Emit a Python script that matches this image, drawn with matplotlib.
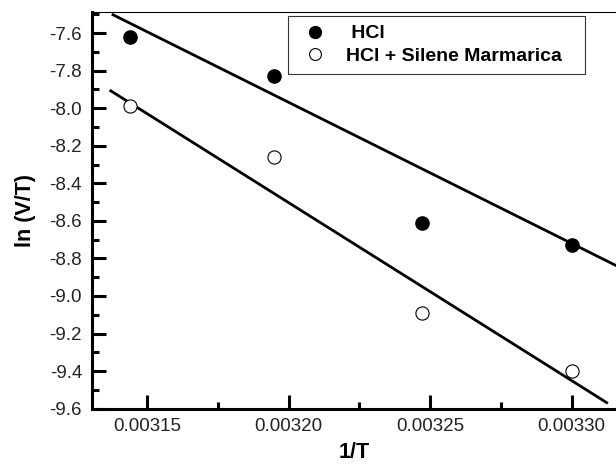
import numpy as np
import matplotlib
matplotlib.use('Agg')
import matplotlib.pyplot as plt
from matplotlib.ticker import MultipleLocator, FormatStrFormatter

plt.rcParams['font.family'] = ['Liberation Sans', 'DejaVu Sans']
plt.rcParams['axes.unicode_minus'] = False

# data
inv_T = [0.003144, 0.003195, 0.003247, 0.003300]
ln_hcl = [-7.62, -7.83, -8.61, -8.73]
ln_hcl_silene = [-7.99, -8.26, -9.09, -9.40]

# fitted lines (end points as drawn)
fit_hcl_x = [0.003138, 0.003320]
fit_hcl_y = [-7.502, -8.870]
fit_silene_x = [0.0031372, 0.0033124]
fit_silene_y = [-7.907, -9.568]

fig = plt.figure(figsize=(6.16, 4.67), dpi=100)
ax = fig.add_axes([0.149, 0.125, 0.851, 0.849])

ax.plot(inv_T, ln_hcl, 'o', color='black', markersize=9.5, label=' HCl', zorder=3)
ax.plot(inv_T, ln_hcl_silene, 'o', markerfacecolor='white', markeredgecolor='black',
        markeredgewidth=0.8, markersize=9.5, label='HCl + Silene Marmarica', zorder=3)
ax.plot(fit_hcl_x, fit_hcl_y, color='black', linewidth=2)
ax.plot(fit_silene_x, fit_silene_y, color='black', linewidth=2)

ax.set_xlim(0.0031305, 0.0033157)
ax.set_ylim(-9.6, -7.488)

ax.xaxis.set_major_locator(MultipleLocator(0.00005))
ax.xaxis.set_minor_locator(MultipleLocator(0.000025))
ax.xaxis.set_major_formatter(FormatStrFormatter('%.5f'))
ax.yaxis.set_major_locator(MultipleLocator(0.2))
ax.yaxis.set_minor_locator(MultipleLocator(0.1))
ax.yaxis.set_major_formatter(FormatStrFormatter('%.1f'))

ax.tick_params(which='both', direction='in', top=False, right=False, labelsize=13.5,
               pad=7, labelcolor='#222222')
ax.tick_params(which='major', length=10, width=2.2)
ax.tick_params(which='minor', length=5, width=2.2)

ax.spines['left'].set_linewidth(2.2)
ax.spines['bottom'].set_linewidth(2.2)
ax.spines['top'].set_linewidth(0.8)
ax.spines['right'].set_visible(False)

ax.set_xlabel('1/T', fontsize=15.5, fontweight='bold', labelpad=5)
ax.set_ylabel('ln (V/T)', fontsize=15.5, fontweight='bold', labelpad=10)

leg = ax.legend(loc='upper left', bbox_to_anchor=(0.374, 0.0, 0.567, 0.990), mode='expand',
                borderaxespad=0, frameon=True, fancybox=False,
                edgecolor='black', prop={'weight': 'bold', 'size': 14},
                markerscale=0.9, handletextpad=0.65, borderpad=0.45, labelspacing=0.25,
                handlelength=1.9)
leg.get_frame().set_linewidth(0.8)

fig.savefig('out.png', dpi=100)
